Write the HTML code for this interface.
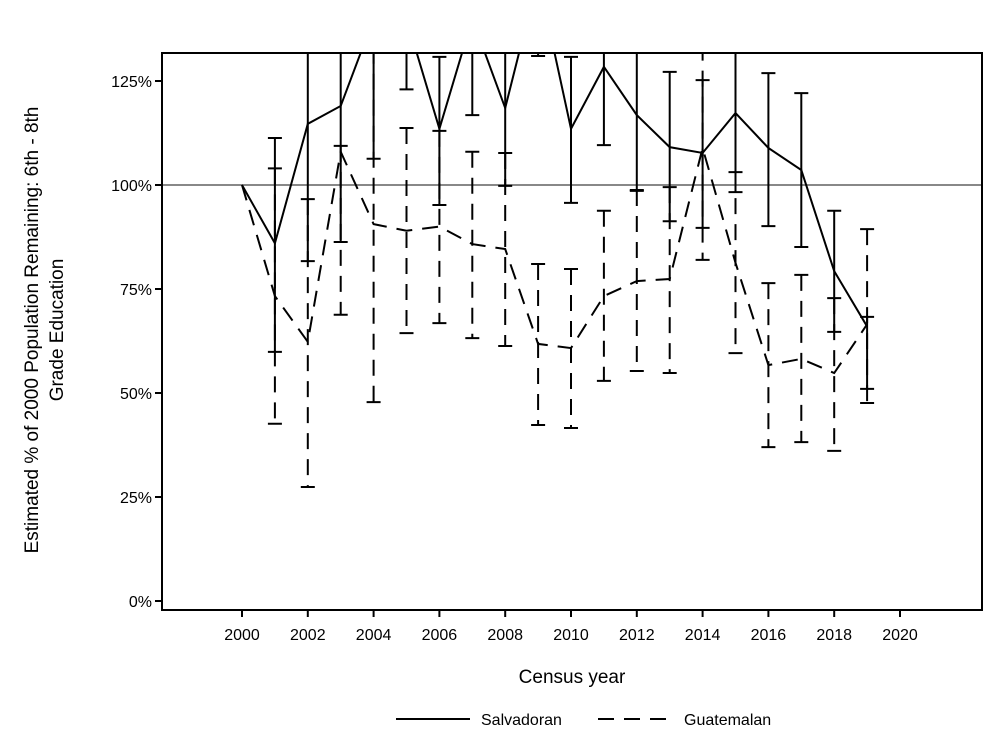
<!DOCTYPE html>
<html><head><meta charset="utf-8"><style>
body{margin:0;background:#fff;}
svg text{font-family:"Liberation Sans",Arial,sans-serif;fill:#000;}
</style></head><body>
<svg id="chart" width="1000" height="750" viewBox="0 0 1000 750">
<defs><clipPath id="pc"><rect x="162" y="53" width="820" height="557"/></clipPath></defs>
<g id="plot" clip-path="url(#pc)"></g>
<g id="axes"></g>
</svg>
<script>
const years = [2000,2001,2002,2003,2004,2005,2006,2007,2008,2009,2010,2011,2012,2013,2014,2015,2016,2017,2018,2019];
const salvVal = [100,86,114.7,119,140,140,113.5,140,118.5,150,113.5,128.4,116.8,109.1,107.7,117.3,108.9,103.6,79.3,66];
const salvLo  = [null,59.9,81.7,86.3,106.3,123,95.2,116.8,99.8,131,95.7,109.6,98.6,91.3,89.7,98.3,90.1,85.1,64.7,51];
const salvHi  = [null,111.3,150,150,170,170,130.8,170,150,170,130.8,150,150,127.2,125.2,150,126.9,122.1,93.8,68.3];
const guatVal = [100,73.3,62.3,108,90.6,89,90,85.8,84.6,61.8,60.8,73.3,76.9,77.4,108.9,81.3,56.7,58.2,54.8,66.5];
const guatLo  = [null,42.6,27.4,68.8,47.8,64.4,66.8,63.2,61.3,42.3,41.6,52.9,55.3,54.8,82,59.6,37,38.2,36.1,47.6];
const guatHi  = [null,104,96.6,109.4,133,113.7,113,108,107.7,81,79.8,93.8,98.8,99.5,140,103.1,76.4,78.4,72.8,89.4];
const xTicks = [2000,2002,2004,2006,2008,2010,2012,2014,2016,2018,2020];
const yTicks = [0,25,50,75,100,125];
const yTickLabels = ["0%","25%","50%","75%","100%","125%"];

const NS="http://www.w3.org/2000/svg";
const X = v => 242 + (v-2000)*32.9;
const Y = v => 601 - v*104/25;
function mk(parent,tag,attrs){const e=document.createElementNS(NS,tag);for(const k in attrs)e.setAttribute(k,attrs[k]);parent.appendChild(e);return e;}
const plot=document.getElementById('plot'), axes=document.getElementById('axes');

let ref=mk(plot,'line',{x1:162,x2:982,y1:Y(100),y2:Y(100),stroke:'#888','stroke-width':2});



function series(vals,lo,hi,dash,name){
  const g=mk(plot,'g',{fill:'none',stroke:'#000','stroke-width':2,'stroke-dasharray':dash});
  
  
  for(let i=0;i<years.length;i++){
    if(lo[i]==null)continue;
    const x=X(years[i]);
    const b=mk(g,'path',{d:`M${x} ${Y(hi[i])}V${Y(lo[i])}`});
    
    
    const c=mk(g,'path',{d:`M${x-7} ${Y(hi[i])}H${x+7}M${x-7} ${Y(lo[i])}H${x+7}`,'stroke-dasharray':'none'});
    
    
  }
  const l=mk(g,'polyline',{points:years.map((y,i)=>X(y)+','+Y(vals[i])).join(' ')});
  
  
}
series(salvVal,salvLo,salvHi,'none','salvadoran');
series(guatVal,guatLo,guatHi,'16 10','guatemalan');

let frame=mk(axes,'rect',{x:162,y:53,width:820,height:557,fill:'none',stroke:'#000','stroke-width':2});


xTicks.forEach(t=>{
  const x=X(t);
  const tk=mk(axes,'line',{x1:x,x2:x,y1:610,y2:617,stroke:'#000','stroke-width':2});
  
  
  const tx=mk(axes,'text',{x:x,y:640,'text-anchor':'middle','font-size':16});
  tx.textContent=t;
  
  
});
yTicks.forEach((t,i)=>{
  const y=Y(t);
  const tk=mk(axes,'line',{x1:155,x2:162,y1:y,y2:y,stroke:'#000','stroke-width':2});
  
  
  const tx=mk(axes,'text',{x:152,y:y+6,'text-anchor':'end','font-size':16});
  tx.textContent=yTickLabels[i];
  
  
});
</script>
<svg style="position:absolute;left:0;top:0" width="1000" height="750">
<text x="572" y="683" text-anchor="middle" font-size="19">Census year</text>
<g transform="translate(38,330) rotate(-90)">
<text x="0" y="0" text-anchor="middle" font-size="19">Estimated % of 2000 Population Remaining: 6th - 8th</text>
<text x="0" y="25" text-anchor="middle" font-size="19">Grade Education</text>
</g>
<g>
<line x1="396" x2="470" y1="719" y2="719" stroke="#000" stroke-width="2"/>
<text x="481" y="725" font-size="16">Salvadoran</text>
<line x1="598" x2="672" y1="719" y2="719" stroke="#000" stroke-width="2" stroke-dasharray="16 10"/>
<text x="684" y="725" font-size="16">Guatemalan</text>
</g>
</svg>
</body></html>
